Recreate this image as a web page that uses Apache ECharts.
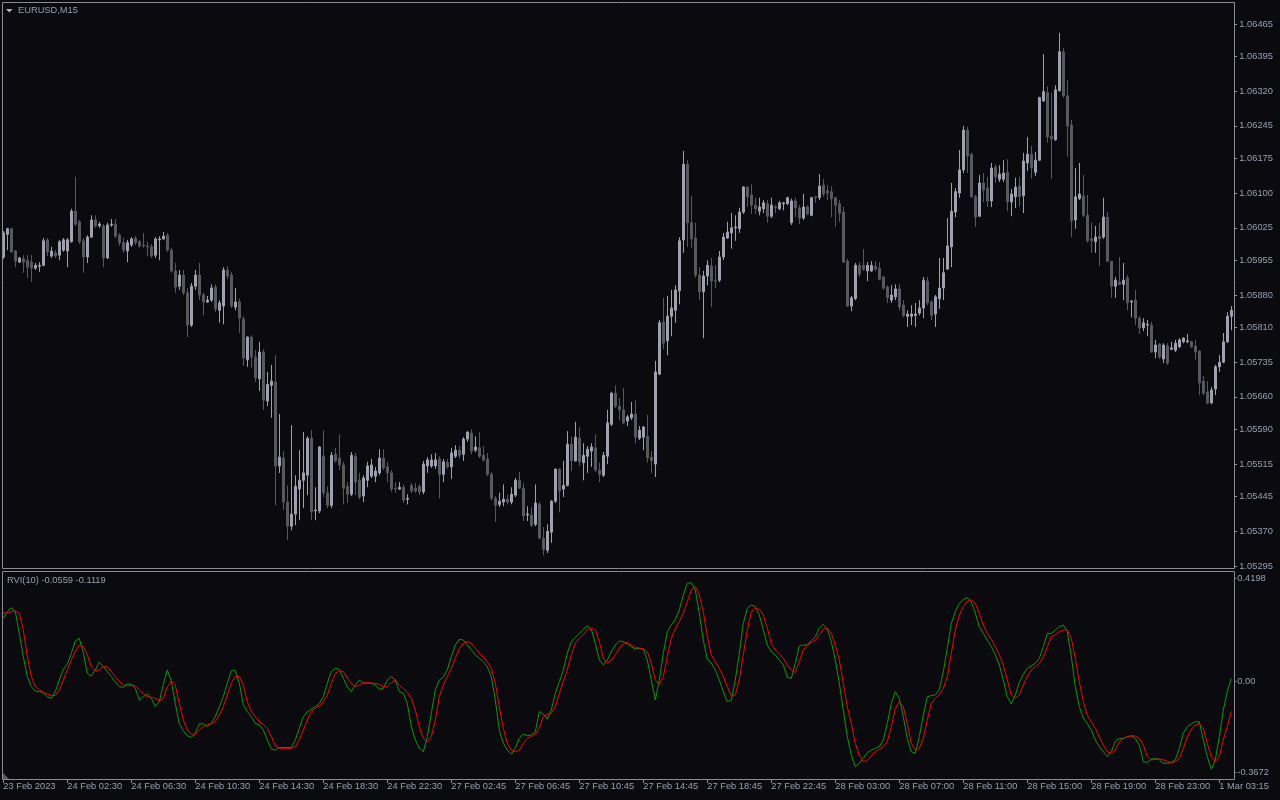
<!DOCTYPE html>
<html><head><meta charset="utf-8">
<script src="https://cdn.jsdelivr.net/npm/echarts@6/dist/echarts.min.js"></script>
<style>html,body{margin:0;padding:0;background:#0a0a0f;}#c{width:1280px;height:800px;}</style>
</head><body><div id="c"></div>
<script>
const titleText = 'EURUSD,M15';
const rviTitle = 'RVI(10) -0.0559 -0.1119';
const timeLabels = ['23 Feb 2023','24 Feb 02:30','24 Feb 06:30','24 Feb 10:30','24 Feb 14:30','24 Feb 18:30','24 Feb 22:30','27 Feb 02:45','27 Feb 06:45','27 Feb 10:45','27 Feb 14:45','27 Feb 18:45','27 Feb 22:45','28 Feb 03:00','28 Feb 07:00','28 Feb 11:00','28 Feb 15:00','28 Feb 19:00','28 Feb 23:00','1 Mar 03:15'];
const priceTicks = [1.06465,1.06395,1.06320,1.06245,1.06175,1.06100,1.06025,1.05955,1.05880,1.05810,1.05735,1.05660,1.05590,1.05515,1.05445,1.05370,1.05295];
const rviTicks = [0.4198, 0.00, -0.3672];
const rviTickLabels = ['0.4198','0.00','-0.3672'];

const opens = [
1.05962,1.06011,1.06023,1.05975,1.05951,1.05958,1.05955,1.05951,1.05938,1.05942,
1.05944,1.05999,1.05964,1.05971,1.05966,1.05977,1.05975,1.05995,1.06061,1.06038,
1.05997,1.05962,1.06005,1.06042,1.06029,1.06029,1.05960,1.06031,1.06033,1.06009,
1.05993,1.05975,1.05988,1.06003,1.05995,1.05988,1.05986,1.05984,1.05966,1.05999,
1.06001,1.06009,1.05977,1.05932,1.05899,1.05923,1.05885,1.05815,1.05899,1.05923,
1.05880,1.05865,1.05869,1.05897,1.05847,1.05856,1.05934,1.05923,1.05854,1.05865,
1.05828,1.05740,1.05789,1.05746,1.05699,1.05757,1.05651,1.05685,1.05692,1.05511,
1.05528,1.05433,1.05381,1.05407,1.05461,1.05480,1.05491,1.05571,1.05414,1.05414,
1.05532,1.05453,1.05426,1.05536,1.05528,1.05513,1.05467,1.05450,1.05532,1.05480,
1.05446,1.05480,1.05489,1.05489,1.05496,1.05528,1.05509,1.05496,1.05463,1.05461,
1.05465,1.05439,1.05469,1.05463,1.05467,1.05455,1.05511,1.05511,1.05511,1.05526,
1.05493,1.05518,1.05509,1.05532,1.05545,1.05536,1.05569,1.05582,1.05545,1.05550,
1.05534,1.05526,1.05493,1.05441,1.05428,1.05433,1.05439,1.05433,1.05448,1.05480,
1.05463,1.05405,1.05405,1.05385,1.05428,1.05355,1.05329,1.05368,1.05435,1.05504,
1.05461,1.05469,1.05558,1.05522,1.05571,1.05518,1.05532,1.05543,1.05550,1.05502,
1.05491,1.05532,1.05601,1.05668,1.05640,1.05632,1.05608,1.05615,1.05623,1.05571,
1.05573,1.05575,1.05530,1.05515,1.05709,1.05822,1.05781,1.05834,1.05847,1.05889,
1.05999,1.06162,1.06036,1.06003,1.05923,1.05887,1.05921,1.05942,1.05912,1.05912,
1.05962,1.06003,1.06014,1.06025,1.06023,1.06059,1.06113,1.06096,1.06074,1.06061,
1.06066,1.06077,1.06050,1.06070,1.06066,1.06077,1.06077,1.06036,1.06083,1.06068,
1.06046,1.06070,1.06052,1.06092,1.06090,1.06117,1.06105,1.06103,1.06090,1.06077,
1.06059,1.05953,1.05856,1.05872,1.05944,1.05944,1.05932,1.05932,1.05942,1.05938,
1.05919,1.05897,1.05869,1.05876,1.05893,1.05858,1.05834,1.05834,1.05836,1.05841,
1.05852,1.05910,1.05865,1.05839,1.05872,1.05895,1.05936,1.05984,1.06059,1.06100,
1.06150,1.06236,1.06184,1.06092,1.06050,1.06122,1.06111,1.06083,1.06156,1.06130,
1.06130,1.06145,1.06081,1.06092,1.06115,1.06094,1.06165,1.06184,1.06145,1.06171,
1.06299,1.06317,1.06223,1.06215,1.06321,1.06405,1.06310,1.06247,1.06042,1.06088,
1.06094,1.06052,1.06001,1.05995,1.06007,1.06005,1.06048,1.05953,1.05899,1.05908,
1.05903,1.05917,1.05865,1.05869,1.05830,1.05809,1.05815,1.05815,1.05757,1.05774,
1.05742,1.05770,1.05763,1.05761,1.05768,1.05779,1.05779,1.05779,1.05770,1.05759,
1.05694,1.05671,1.05647,1.05677,1.05725,1.05735,1.05779,1.05834];

const closes = [
1.06014,1.06023,1.05973,1.05953,1.05960,1.05951,1.05940,1.05938,1.05944,1.05944,
1.05997,1.05973,1.05975,1.05964,1.05995,1.05999,1.05999,1.06061,1.06033,1.05995,
1.05962,1.06005,1.06042,1.06029,1.06033,1.05960,1.06031,1.06033,1.06007,1.05993,
1.05977,1.05993,1.06001,1.05993,1.05986,1.05986,1.05984,1.05964,1.06001,1.06001,
1.06007,1.05977,1.05932,1.05897,1.05923,1.05885,1.05815,1.05899,1.05923,1.05880,
1.05865,1.05869,1.05895,1.05850,1.05863,1.05934,1.05921,1.05856,1.05865,1.05830,
1.05744,1.05789,1.05746,1.05701,1.05757,1.05653,1.05687,1.05694,1.05511,1.05530,
1.05433,1.05381,1.05407,1.05467,1.05480,1.05496,1.05571,1.05412,1.05416,1.05552,
1.05453,1.05426,1.05534,1.05522,1.05513,1.05463,1.05450,1.05534,1.05476,1.05444,
1.05485,1.05511,1.05513,1.05500,1.05528,1.05507,1.05496,1.05461,1.05461,1.05465,
1.05437,1.05441,1.05457,1.05457,1.05455,1.05515,1.05524,1.05524,1.05524,1.05493,
1.05520,1.05509,1.05539,1.05545,1.05534,1.05569,1.05584,1.05543,1.05552,1.05532,
1.05524,1.05493,1.05441,1.05426,1.05435,1.05439,1.05433,1.05450,1.05480,1.05463,
1.05403,1.05407,1.05383,1.05431,1.05355,1.05331,1.05370,1.05435,1.05504,1.05457,
1.05469,1.05558,1.05522,1.05573,1.05520,1.05534,1.05547,1.05552,1.05502,1.05493,
1.05534,1.05604,1.05668,1.05640,1.05632,1.05604,1.05617,1.05623,1.05573,1.05588,
1.05595,1.05528,1.05522,1.05714,1.05820,1.05776,1.05834,1.05852,1.05891,1.05997,
1.06162,1.06036,1.06001,1.05923,1.05887,1.05921,1.05944,1.05910,1.05910,1.05962,
1.06005,1.06016,1.06025,1.06027,1.06059,1.06113,1.06092,1.06074,1.06066,1.06070,
1.06079,1.06050,1.06074,1.06068,1.06079,1.06079,1.06090,1.06083,1.06068,1.06046,
1.06070,1.06055,1.06090,1.06090,1.06115,1.06098,1.06100,1.06088,1.06074,1.06057,
1.05951,1.05856,1.05874,1.05944,1.05925,1.05936,1.05944,1.05944,1.05936,1.05914,
1.05895,1.05874,1.05880,1.05893,1.05854,1.05836,1.05839,1.05839,1.05839,1.05852,
1.05912,1.05863,1.05836,1.05876,1.05895,1.05928,1.05986,1.06061,1.06103,1.06150,
1.06236,1.06180,1.06092,1.06048,1.06122,1.06107,1.06083,1.06154,1.06135,1.06141,
1.06143,1.06081,1.06098,1.06113,1.06092,1.06169,1.06184,1.06154,1.06171,1.06306,
1.06319,1.06221,1.06217,1.06323,1.06405,1.06310,1.06245,1.06040,1.06092,1.06098,
1.06052,1.05997,1.05997,1.06005,1.06001,1.06048,1.05953,1.05899,1.05912,1.05903,
1.05912,1.05863,1.05867,1.05830,1.05809,1.05820,1.05817,1.05757,1.05772,1.05746,
1.05772,1.05733,1.05766,1.05776,1.05783,1.05787,1.05781,1.05768,1.05757,1.05690,
1.05668,1.05647,1.05675,1.05725,1.05735,1.05779,1.05834,1.05847];

const highs = [
1.06018,1.06025,1.06025,1.05977,1.05962,1.05966,1.05966,1.05966,1.05949,1.05951,
1.06003,1.06003,1.05984,1.05977,1.05999,1.06003,1.06003,1.06066,1.06135,1.06042,
1.06003,1.06009,1.06052,1.06052,1.06038,1.06033,1.06036,1.06044,1.06044,1.06014,
1.06003,1.05999,1.06005,1.06007,1.05999,1.06014,1.05995,1.05990,1.06005,1.06007,
1.06016,1.06014,1.05982,1.05949,1.05934,1.05934,1.05895,1.05906,1.05934,1.05949,
1.05885,1.05878,1.05903,1.05903,1.05869,1.05940,1.05942,1.05930,1.05895,1.05872,
1.05834,1.05791,1.05793,1.05761,1.05779,1.05763,1.05714,1.05729,1.05750,1.05623,
1.05543,1.05469,1.05599,1.05491,1.05545,1.05584,1.05575,1.05588,1.05465,1.05554,
1.05588,1.05467,1.05541,1.05550,1.05579,1.05520,1.05476,1.05541,1.05539,1.05496,
1.05491,1.05520,1.05526,1.05509,1.05547,1.05547,1.05520,1.05502,1.05476,1.05476,
1.05471,1.05450,1.05474,1.05474,1.05471,1.05522,1.05530,1.05536,1.05539,1.05532,
1.05526,1.05526,1.05550,1.05556,1.05554,1.05573,1.05586,1.05590,1.05575,1.05584,
1.05554,1.05539,1.05498,1.05446,1.05453,1.05471,1.05448,1.05465,1.05485,1.05498,
1.05474,1.05424,1.05422,1.05471,1.05433,1.05379,1.05385,1.05437,1.05506,1.05506,
1.05522,1.05586,1.05575,1.05606,1.05595,1.05560,1.05554,1.05560,1.05579,1.05518,
1.05541,1.05632,1.05671,1.05685,1.05658,1.05679,1.05621,1.05649,1.05653,1.05597,
1.05597,1.05621,1.05543,1.05738,1.05826,1.05874,1.05878,1.05891,1.05901,1.06005,
1.06191,1.06171,1.06094,1.06036,1.05940,1.05932,1.05955,1.05960,1.05944,1.05975,
1.06014,1.06038,1.06057,1.06052,1.06068,1.06115,1.06115,1.06119,1.06090,1.06090,
1.06085,1.06085,1.06090,1.06074,1.06083,1.06081,1.06092,1.06088,1.06090,1.06074,
1.06098,1.06074,1.06092,1.06092,1.06141,1.06130,1.06117,1.06115,1.06092,1.06085,
1.06070,1.05958,1.05878,1.05949,1.05951,1.05979,1.05951,1.05953,1.05953,1.05951,
1.05921,1.05901,1.05901,1.05903,1.05903,1.05869,1.05847,1.05858,1.05863,1.05869,
1.05919,1.05919,1.05869,1.05880,1.05960,1.05960,1.06046,1.06122,1.06111,1.06193,
1.06245,1.06243,1.06187,1.06096,1.06139,1.06143,1.06135,1.06165,1.06162,1.06160,
1.06171,1.06173,1.06109,1.06133,1.06135,1.06187,1.06221,1.06202,1.06189,1.06308,
1.06400,1.06330,1.06317,1.06333,1.06446,1.06413,1.06344,1.06258,1.06154,1.06165,
1.06139,1.06096,1.06036,1.06029,1.06036,1.06090,1.06059,1.05953,1.05919,1.05962,
1.05949,1.05923,1.05869,1.05891,1.05834,1.05830,1.05826,1.05822,1.05783,1.05776,
1.05776,1.05776,1.05779,1.05783,1.05787,1.05789,1.05796,1.05781,1.05783,1.05761,
1.05705,1.05694,1.05681,1.05729,1.05750,1.05798,1.05843,1.05856];

const lows = [
1.05958,1.05977,1.05971,1.05940,1.05949,1.05928,1.05917,1.05908,1.05934,1.05930,
1.05942,1.05964,1.05960,1.05960,1.05955,1.05973,1.05940,1.05993,1.06029,1.05990,
1.05928,1.05949,1.06003,1.06025,1.06025,1.05940,1.05958,1.06027,1.06003,1.05986,
1.05971,1.05951,1.05984,1.05988,1.05982,1.05982,1.05964,1.05960,1.05960,1.05955,
1.05999,1.05973,1.05928,1.05885,1.05891,1.05880,1.05789,1.05811,1.05891,1.05869,
1.05836,1.05863,1.05865,1.05843,1.05820,1.05817,1.05914,1.05852,1.05847,1.05798,
1.05727,1.05725,1.05723,1.05692,1.05673,1.05632,1.05640,1.05615,1.05426,1.05496,
1.05416,1.05351,1.05372,1.05383,1.05394,1.05420,1.05448,1.05394,1.05394,1.05409,
1.05444,1.05420,1.05420,1.05518,1.05502,1.05428,1.05431,1.05446,1.05448,1.05439,
1.05433,1.05465,1.05485,1.05476,1.05491,1.05502,1.05476,1.05455,1.05453,1.05459,
1.05431,1.05428,1.05453,1.05453,1.05448,1.05450,1.05496,1.05507,1.05505,1.05441,
1.05476,1.05505,1.05483,1.05528,1.05528,1.05522,1.05563,1.05536,1.05541,1.05528,
1.05520,1.05489,1.05437,1.05390,1.05422,1.05424,1.05428,1.05428,1.05444,1.05461,
1.05392,1.05392,1.05379,1.05381,1.05353,1.05318,1.05323,1.05345,1.05431,1.05411,
1.05444,1.05467,1.05500,1.05520,1.05511,1.05480,1.05496,1.05509,1.05498,1.05476,
1.05487,1.05515,1.05597,1.05636,1.05610,1.05601,1.05597,1.05610,1.05560,1.05567,
1.05545,1.05518,1.05496,1.05487,1.05707,1.05763,1.05750,1.05791,1.05820,1.05860,
1.05971,1.05984,1.05982,1.05917,1.05869,1.05787,1.05901,1.05854,1.05895,1.05908,
1.05955,1.06001,1.05980,1.05997,1.06014,1.06055,1.06070,1.06055,1.06055,1.06052,
1.06057,1.06036,1.06046,1.06057,1.06063,1.06063,1.06074,1.06031,1.06048,1.06033,
1.06042,1.06052,1.06050,1.06079,1.06085,1.06092,1.06085,1.06048,1.06027,1.06038,
1.05949,1.05854,1.05845,1.05869,1.05919,1.05932,1.05910,1.05930,1.05932,1.05912,
1.05891,1.05863,1.05863,1.05869,1.05847,1.05832,1.05811,1.05815,1.05811,1.05836,
1.05830,1.05858,1.05826,1.05811,1.05850,1.05869,1.05934,1.05940,1.06048,1.06090,
1.06143,1.06143,1.06090,1.06027,1.06048,1.06081,1.06070,1.06070,1.06122,1.06124,
1.06124,1.06061,1.06050,1.06068,1.06072,1.06057,1.06148,1.06131,1.06137,1.06169,
1.06297,1.06209,1.06131,1.06213,1.06319,1.06306,1.06178,1.06005,1.06023,1.06085,
1.06048,1.05993,1.05971,1.05971,1.05942,1.06001,1.05951,1.05874,1.05874,1.05901,
1.05869,1.05847,1.05832,1.05815,1.05796,1.05802,1.05791,1.05755,1.05744,1.05742,
1.05733,1.05729,1.05761,1.05757,1.05766,1.05776,1.05776,1.05766,1.05740,1.05664,
1.05664,1.05644,1.05644,1.05664,1.05714,1.05733,1.05776,1.05804];

const rviMain = [
0.256,0.283,0.300,0.283,0.195,0.101,0.020,-0.021,-0.039,-0.041,
-0.045,-0.062,-0.068,-0.041,0.006,0.049,0.070,0.114,0.164,0.175,
0.117,0.033,0.022,0.047,0.079,0.060,0.040,0.020,-0.003,-0.021,
-0.024,-0.010,-0.011,-0.028,-0.075,-0.062,-0.051,-0.068,-0.102,-0.082,
-0.011,0.047,0.002,-0.089,-0.172,-0.199,-0.220,-0.227,-0.210,-0.172,
-0.172,-0.183,-0.170,-0.143,-0.102,-0.062,-0.007,0.044,0.043,-0.007,
-0.095,-0.122,-0.143,-0.170,-0.176,-0.197,-0.237,-0.274,-0.278,-0.268,
-0.268,-0.268,-0.268,-0.237,-0.190,-0.143,-0.122,-0.113,-0.102,-0.089,
-0.062,-0.007,0.040,0.053,0.049,0.013,-0.021,-0.041,-0.014,0.006,
-0.007,-0.007,-0.007,-0.014,-0.032,-0.028,0.006,0.020,0.006,-0.041,
-0.048,-0.089,-0.183,-0.237,-0.271,-0.285,-0.224,-0.129,-0.034,0.006,
0.017,0.047,0.101,0.148,0.171,0.168,0.148,0.128,0.108,0.094,
0.080,0.060,0.020,-0.075,-0.197,-0.251,-0.278,-0.295,-0.271,-0.231,
-0.213,-0.220,-0.217,-0.204,-0.122,-0.132,-0.153,-0.116,-0.048,-0.001,
0.047,0.114,0.162,0.179,0.195,0.212,0.225,0.212,0.155,0.087,
0.067,0.087,0.121,0.148,0.164,0.162,0.152,0.141,0.132,0.135,
0.132,0.087,0.006,-0.075,0.006,0.114,0.202,0.229,0.252,0.290,
0.351,0.398,0.401,0.371,0.277,0.168,0.090,0.074,0.047,0.006,
-0.041,-0.082,-0.075,0.006,0.114,0.236,0.297,0.310,0.304,0.270,
0.209,0.148,0.121,0.108,0.087,0.067,0.017,0.013,0.074,0.144,
0.148,0.148,0.166,0.182,0.216,0.232,0.212,0.162,0.087,-0.007,
-0.116,-0.224,-0.298,-0.346,-0.332,-0.312,-0.289,-0.278,-0.271,-0.264,
-0.237,-0.170,-0.089,-0.041,-0.068,-0.143,-0.231,-0.285,-0.291,-0.224,
-0.136,-0.062,-0.057,-0.055,-0.034,0.040,0.135,0.236,0.283,0.317,
0.333,0.340,0.324,0.277,0.222,0.195,0.168,0.141,0.108,0.067,
0.006,-0.062,-0.091,-0.055,-0.005,0.030,0.053,0.063,0.074,0.094,
0.141,0.195,0.195,0.209,0.222,0.229,0.202,0.101,-0.021,-0.102,
-0.149,-0.170,-0.197,-0.237,-0.264,-0.285,-0.305,-0.285,-0.244,-0.231,
-0.231,-0.224,-0.220,-0.231,-0.258,-0.325,-0.328,-0.316,-0.312,-0.318,
-0.332,-0.332,-0.329,-0.318,-0.271,-0.210,-0.183,-0.172,-0.163,-0.163,
-0.237,-0.305,-0.356,-0.318,-0.224,-0.116,-0.041,0.013];

const rviSignal = [
0.279,0.277,0.283,0.286,0.277,0.209,0.101,0.020,-0.021,-0.034,
-0.044,-0.051,-0.057,-0.057,-0.034,0.006,0.047,0.087,0.121,0.148,
0.141,0.108,0.060,0.043,0.047,0.060,0.060,0.040,0.020,-0.001,
-0.014,-0.018,-0.016,-0.018,-0.034,-0.051,-0.062,-0.064,-0.068,-0.079,
-0.068,-0.021,0.002,-0.014,-0.089,-0.156,-0.197,-0.214,-0.214,-0.197,
-0.183,-0.176,-0.170,-0.163,-0.136,-0.102,-0.055,-0.007,0.020,0.020,
-0.014,-0.082,-0.122,-0.143,-0.163,-0.174,-0.190,-0.224,-0.260,-0.271,
-0.271,-0.271,-0.271,-0.264,-0.237,-0.197,-0.156,-0.122,-0.109,-0.099,
-0.082,-0.055,-0.007,0.033,0.044,0.040,0.013,-0.007,-0.021,-0.014,
-0.005,-0.005,-0.007,-0.007,-0.011,-0.021,-0.021,-0.005,0.006,-0.014,
-0.028,-0.045,-0.068,-0.116,-0.183,-0.231,-0.244,-0.224,-0.156,-0.062,
-0.014,0.020,0.053,0.094,0.132,0.155,0.162,0.155,0.135,0.114,
0.098,0.080,0.053,-0.007,-0.102,-0.190,-0.251,-0.278,-0.285,-0.278,
-0.251,-0.231,-0.224,-0.214,-0.190,-0.143,-0.132,-0.129,-0.102,-0.048,
-0.001,0.047,0.108,0.155,0.175,0.189,0.209,0.216,0.209,0.162,
0.094,0.074,0.087,0.108,0.135,0.155,0.158,0.148,0.139,0.135,
0.133,0.121,0.074,0.006,-0.014,0.020,0.101,0.175,0.216,0.243,
0.277,0.324,0.371,0.385,0.351,0.283,0.182,0.108,0.080,0.053,
0.020,-0.021,-0.059,-0.055,0.006,0.108,0.209,0.283,0.297,0.293,
0.270,0.216,0.155,0.128,0.112,0.094,0.067,0.047,0.036,0.080,
0.128,0.148,0.158,0.168,0.189,0.212,0.216,0.195,0.148,0.087,
-0.007,-0.102,-0.170,-0.251,-0.298,-0.325,-0.321,-0.302,-0.285,-0.274,
-0.264,-0.244,-0.183,-0.109,-0.082,-0.102,-0.170,-0.251,-0.278,-0.271,
-0.231,-0.156,-0.089,-0.068,-0.055,-0.028,0.020,0.114,0.209,0.270,
0.304,0.324,0.331,0.317,0.277,0.229,0.195,0.171,0.141,0.108,
0.067,0.006,-0.055,-0.068,-0.055,-0.014,0.022,0.047,0.060,0.074,
0.098,0.141,0.182,0.189,0.202,0.209,0.209,0.175,0.094,-0.001,
-0.082,-0.136,-0.163,-0.190,-0.224,-0.258,-0.285,-0.291,-0.278,-0.244,
-0.231,-0.224,-0.221,-0.221,-0.231,-0.258,-0.305,-0.318,-0.316,-0.314,
-0.318,-0.325,-0.328,-0.325,-0.312,-0.271,-0.224,-0.194,-0.176,-0.170,
-0.190,-0.251,-0.305,-0.325,-0.305,-0.237,-0.183,-0.122];

const BG = '#0a0a0f', FRAME = '#8c8c94', TXT = '#97a0b0';
const UP = '#a0a0b0', DN = '#58585f';
const FONT = '"Liberation Sans", Arial, sans-serif';
const FS = 9.3;

const cats = opens.map((_, i) => String(i));
const candleData = opens.map((o, i) => [o, closes[i], lows[i], highs[i]]);

const chart = echarts.init(document.getElementById('c'), null, {renderer: 'canvas'});
chart.setOption({
  backgroundColor: BG,
  animation: false,
  grid: [
    {left: 1.3, width: 1232, top: 24, height: 542},
    {left: 1.3, width: 1232, top: 578, height: 194}
  ],
  xAxis: [
    {type: 'category', gridIndex: 0, data: cats, boundaryGap: true,
     axisLine: {show: false, onZero: false}, axisTick: {show: false}, axisLabel: {show: false}, splitLine: {show: false}},
    {type: 'category', gridIndex: 1, data: cats, boundaryGap: true, offset: 7, position: 'bottom',
     axisLine: {show: false, onZero: false},
     axisTick: {show: true, alignWithLabel: true, interval: 15, length: 4, lineStyle: {color: FRAME}},
     axisLabel: {interval: 15, align: 'left', margin: 3, color: TXT, fontSize: FS, fontFamily: FONT,
       formatter: (v, i) => (i % 16 === 0 && timeLabels[i / 16]) ? timeLabels[i / 16] : ''},
     splitLine: {show: false}}
  ],
  yAxis: [
    {type: 'value', gridIndex: 0, min: 1.05295, max: 1.06465, position: 'right', offset: 1,
     splitLine: {show: false}, axisLine: {show: false},
     axisTick: {show: true, length: 3, customValues: priceTicks, lineStyle: {color: FRAME}},
     axisLabel: {customValues: priceTicks, margin: 5, color: TXT, fontSize: FS, fontFamily: FONT,
       formatter: v => v.toFixed(5)}},
    {type: 'value', gridIndex: 1, min: -0.3672, max: 0.4198, position: 'right', offset: 1,
     splitLine: {show: false}, axisLine: {show: false},
     axisTick: {show: true, length: 2, customValues: rviTicks, lineStyle: {color: FRAME}},
     axisLabel: {customValues: rviTicks, margin: 3, color: TXT, fontSize: FS, fontFamily: FONT,
       formatter: v => { const k = rviTicks.findIndex(t => Math.abs(t - v) < 1e-9); return k >= 0 ? rviTickLabels[k] : ''; }}}
  ],
  series: [
    {type: 'candlestick', xAxisIndex: 0, yAxisIndex: 0, data: candleData, barWidth: 2,
     itemStyle: {color: UP, color0: DN, borderColor: UP, borderColor0: DN, borderWidth: 1}},
    {type: 'line', xAxisIndex: 1, yAxisIndex: 1, data: rviMain, symbol: 'none',
     lineStyle: {color: '#00a000', width: 1}},
    {type: 'line', xAxisIndex: 1, yAxisIndex: 1, data: rviSignal, symbol: 'none',
     lineStyle: {color: '#ff0000', width: 1}}
  ],
  graphic: [
    {type: 'rect', silent: true, z: 100, shape: {x: 2.5, y: 2.5, width: 1232, height: 566}, style: {fill: 'none', stroke: FRAME, lineWidth: 1}},
    {type: 'rect', silent: true, z: 100, shape: {x: 2.5, y: 571.5, width: 1232, height: 208}, style: {fill: 'none', stroke: FRAME, lineWidth: 1}},
    {type: 'polygon', silent: true, z: 100, shape: {points: [[6, 9], [12.6, 9], [9.3, 12.6]]}, style: {fill: '#b0b4c0'}},
    {type: 'polygon', silent: true, z: 100, shape: {points: [[3, 773], [3, 779], [9, 779]]}, style: {fill: '#5a5a62'}},
    {type: 'text', silent: true, z: 100, x: 18, y: 10.5, style: {text: titleText, fill: TXT, font: FS + 'px ' + FONT, textVerticalAlign: 'middle', verticalAlign: 'middle'}},
    {type: 'text', silent: true, z: 100, x: 7, y: 580.5, style: {text: rviTitle, fill: TXT, font: FS + 'px ' + FONT, textVerticalAlign: 'middle', verticalAlign: 'middle'}}
  ]
});
</script>
</body></html>
